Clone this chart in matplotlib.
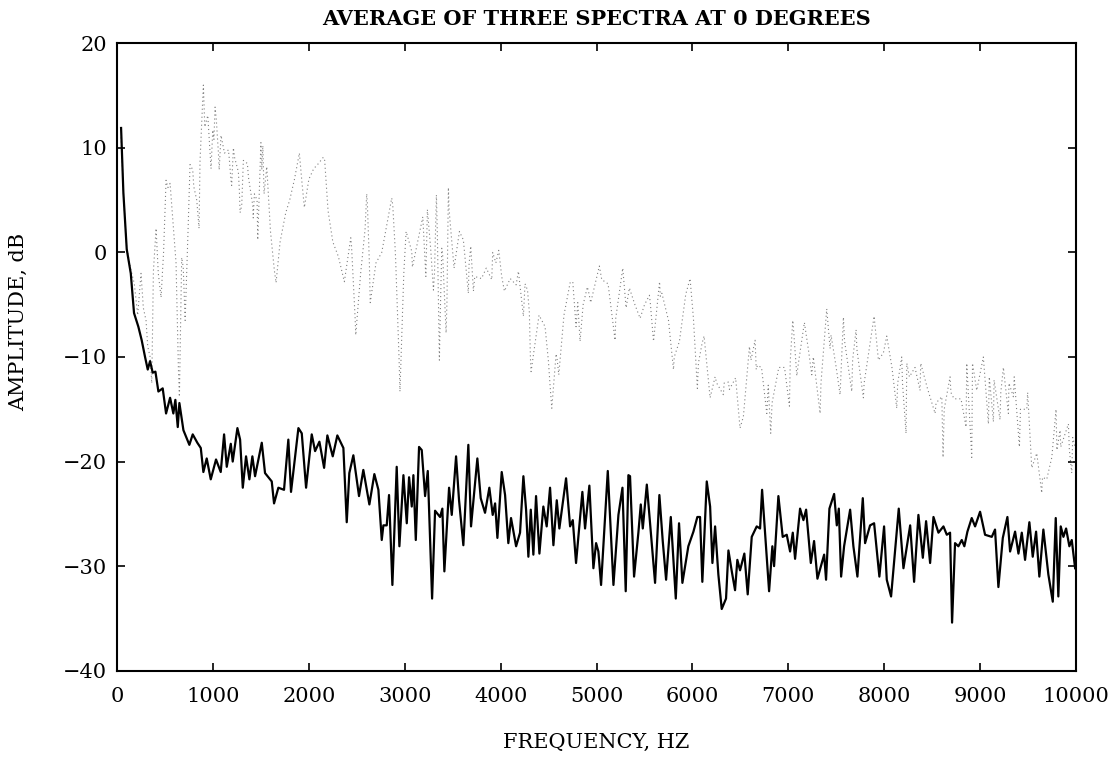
#!/usr/bin/env python3
"""Average of three spectra at 0 degrees: solid vs dotted amplitude spectra."""
import matplotlib
matplotlib.use("Agg")
import matplotlib.pyplot as plt

# ---- solid spectrum (Hz, dB) ----
solid_freq = [42, 66, 101, 143, 177, 222, 257, 292, 320, 344, 372, 400, 431, 476, 511,
              553, 587, 608, 633, 650, 692, 754, 789, 837, 873, 900, 935, 977, 1032,
              1081, 1116, 1144, 1186, 1206, 1255, 1283, 1311, 1345, 1380, 1411, 1439,
              1509, 1543, 1613, 1637, 1682, 1741, 1786, 1814, 1891, 1926, 1971, 2030,
              2065, 2110, 2159, 2193, 2249, 2297, 2360, 2395, 2422, 2464, 2523, 2568,
              2631, 2683, 2725, 2760, 2777, 2812, 2836, 2871, 2916, 2944, 2986, 3021,
              3045, 3073, 3090, 3115, 3149, 3177, 3212, 3240, 3285, 3316, 3368, 3392,
              3413, 3462, 3490, 3535, 3566, 3611, 3663, 3691, 3757, 3792, 3837, 3882,
              3917, 3942, 3966, 4011, 4046, 4080, 4108, 4161, 4202, 4237, 4265, 4289,
              4314, 4341, 4369, 4404, 4445, 4480, 4515, 4550, 4585, 4612, 4682, 4724,
              4752, 4786, 4852, 4880, 4925, 4967, 4995, 5019, 5047, 5117, 5176, 5228,
              5270, 5304, 5332, 5349, 5391, 5436, 5461, 5482, 5524, 5565, 5610, 5655,
              5690, 5725, 5774, 5795, 5826, 5860, 5895, 5957, 6010, 6051, 6079, 6103,
              6149, 6184, 6208, 6236, 6270, 6305, 6350, 6375, 6410, 6444, 6468, 6496,
              6541, 6576, 6618, 6670, 6705, 6726, 6767, 6799, 6833, 6851, 6896, 6941,
              6983, 7018, 7046, 7070, 7122, 7157, 7185, 7234, 7268, 7303, 7373, 7393,
              7428, 7477, 7505, 7526, 7550, 7581, 7644, 7678, 7720, 7776, 7800, 7852,
              7894, 7949, 7998, 8026, 8071, 8113, 8151, 8200, 8270, 8311, 8356, 8402,
              8436, 8478, 8513, 8565, 8617, 8652, 8686, 8707, 8738, 8773, 8808, 8835,
              8867, 8912, 8947, 8999, 9051, 9121, 9155, 9190, 9236, 9284, 9312, 9364,
              9399, 9434, 9468, 9513, 9548, 9583, 9617, 9659, 9711, 9757, 9788, 9815,
              9840, 9868, 9896, 9930, 9955, 9990]
solid_db = [11.9, 5.7, 0.3, -2.0, -5.8, -7.1, -8.4, -10.0, -11.2, -10.4, -11.5, -11.4,
            -13.3, -13.0, -15.4, -13.9, -15.4, -14.1, -16.7, -14.4, -17.0, -18.4, -17.4,
            -18.2, -18.7, -21.0, -19.7, -21.7, -19.8, -21.0, -17.4, -20.5, -18.3, -20.0,
            -16.8, -17.9, -22.5, -19.5, -21.7, -19.5, -21.4, -18.2, -21.1, -21.9, -24.0,
            -22.5, -22.7, -17.9, -22.9, -16.8, -17.3, -22.5, -17.4, -19.0, -18.1, -20.6,
            -17.5, -19.5, -17.5, -18.7, -25.8, -21.1, -19.4, -23.3, -20.8, -24.1, -21.2,
            -22.7, -27.5, -26.1, -26.1, -23.2, -31.8, -20.5, -28.1, -21.3, -25.9, -21.5,
            -24.3, -21.3, -27.5, -18.6, -18.9, -23.3, -20.9, -33.1, -24.7, -25.3, -24.5,
            -30.5, -22.5, -25.1, -19.5, -23.7, -28.0, -18.4, -26.2, -19.7, -23.5, -24.9,
            -22.5, -25.1, -24.0, -27.3, -21.0, -23.2, -27.8, -25.4, -28.1, -26.8, -21.4,
            -24.6, -29.1, -24.6, -28.9, -23.3, -28.8, -24.3, -26.2, -22.5, -28.0, -23.7,
            -26.4, -21.6, -26.2, -25.6, -29.7, -22.9, -26.4, -22.3, -30.2, -27.8, -28.6,
            -31.8, -20.9, -31.8, -25.1, -22.5, -32.4, -21.3, -21.4, -31.0, -26.8, -24.1,
            -26.4, -22.2, -26.7, -31.6, -23.2, -27.6, -31.3, -25.3, -28.5, -33.1, -25.9,
            -31.6, -28.1, -26.7, -25.3, -25.3, -31.5, -21.9, -24.3, -29.7, -26.2, -30.8,
            -34.1, -33.1, -28.5, -30.5, -32.3, -29.4, -30.4, -28.8, -32.7, -27.2, -26.2,
            -26.4, -22.7, -28.1, -32.4, -28.1, -30.0, -23.3, -27.2, -27.0, -28.6, -26.8,
            -29.3, -24.5, -25.6, -24.6, -29.7, -27.6, -31.2, -28.9, -31.3, -24.5, -23.1,
            -26.1, -24.5, -31.0, -28.1, -24.6, -28.1, -31.0, -23.5, -27.8, -26.1, -25.9,
            -31.0, -26.2, -31.3, -32.9, -28.5, -24.5, -30.2, -26.1, -31.5, -25.1, -29.2,
            -25.7, -29.7, -25.3, -26.8, -26.2, -27.0, -26.8, -35.4, -27.8, -28.1, -27.5,
            -28.1, -26.7, -25.4, -26.2, -24.8, -27.0, -27.2, -26.5, -32.0, -27.3, -25.3,
            -28.6, -26.7, -28.8, -26.8, -29.4, -25.8, -29.1, -26.7, -31.0, -26.5, -30.8,
            -33.4, -25.4, -32.9, -26.2, -27.2, -26.4, -28.1, -27.5, -30.2]

# ---- dotted spectrum (Hz, dB) ----
dotted_freq = [42, 70, 100, 140, 180, 215, 250, 274, 302, 320, 345, 362, 379, 407, 430,
               459, 485, 511, 530, 553, 590, 615, 640, 650, 674, 690, 699, 710, 740, 761,
               789, 800, 831, 855, 865, 900, 915, 946, 980, 998, 1010, 1022, 1035, 1057,
               1065, 1084, 1120, 1161, 1170, 1186, 1195, 1213, 1225, 1265, 1275, 1283,
               1300, 1317, 1359, 1370, 1415, 1420, 1432, 1460, 1467, 1500, 1509, 1520,
               1533, 1561, 1600, 1640, 1658, 1700, 1759, 1800, 1850, 1901, 1926, 1953,
               2000, 2050, 2100, 2151, 2165, 2200, 2250, 2308, 2370, 2437, 2445, 2482,
               2489, 2540, 2586, 2603, 2610, 2631, 2640, 2700, 2760, 2864, 2875, 2899,
               2905, 2940, 2950, 2990, 3014, 3030, 3073, 3080, 3188, 3212, 3220, 3236,
               3270, 3299, 3310, 3330, 3340, 3361, 3370, 3386, 3395, 3431, 3440, 3455,
               3462, 3514, 3570, 3611, 3663, 3670, 3688, 3716, 3730, 3800, 3850, 3907,
               3917, 3950, 3980, 4011, 4039, 4100, 4161, 4185, 4237, 4254, 4280, 4299,
               4310, 4317, 4400, 4463, 4498, 4515, 4533, 4578, 4590, 4606, 4660, 4724,
               4752, 4786, 4804, 4828, 4860, 4904, 4920, 4939, 5029, 5054, 5120, 5193,
               5200, 5273, 5308, 5342, 5400, 5454, 5500, 5551, 5560, 5594, 5657, 5665,
               5681, 5750, 5802, 5810, 5864, 5930, 5975, 6010, 6051, 6062, 6100, 6121,
               6184, 6236, 6253, 6322, 6330, 6375, 6385, 6450, 6496, 6531, 6594, 6610,
               6653, 6665, 6677, 6720, 6775, 6790, 6816, 6830, 6900, 6960, 7011, 7020,
               7046, 7055, 7088, 7100, 7167, 7209, 7244, 7260, 7331, 7340, 7400, 7435,
               7445, 7497, 7539, 7574, 7585, 7661, 7670, 7706, 7715, 7782, 7790, 7894,
               7939, 7991, 8026, 8080, 8130, 8140, 8182, 8190, 8227, 8235, 8262, 8320,
               8373, 8380, 8450, 8530, 8540, 8600, 8613, 8625, 8686, 8695, 8728, 8800,
               8853, 8860, 8912, 8920, 8964, 9033, 9086, 9095, 9138, 9145, 9207, 9215,
               9242, 9294, 9300, 9346, 9355, 9409, 9420, 9486, 9495, 9538, 9590, 9642,
               9650, 9694, 9747, 9791, 9800, 9833, 9840, 9920, 9930, 9955, 9965, 10000]
dotted_db = [11.0, 5.0, 0.5, -1.5, -3.0, -6.0, -2.0, -5.3, -6.5, -9.0, -10.0, -12.5, -1.8,
             2.3, -2.0, -4.3, 0.0, 6.9, 6.2, 6.6, 2.0, -1.0, -11.2, -13.8, -0.5, -1.4,
             -3.6, -6.5, 2.0, 8.4, 7.9, 6.3, 5.0, 2.3, 8.7, 16.0, 12.0, 13.1, 8.0, 11.7,
             10.8, 13.9, 12.7, 9.5, 7.9, 11.2, 9.5, 9.8, 9.0, 7.1, 6.4, 10.0, 9.1, 7.7,
             6.0, 3.8, 4.5, 8.8, 8.5, 7.2, 4.5, 3.3, 5.6, 5.0, 1.2, 10.5, 7.9, 10.2, 5.6,
             8.2, 2.0, -1.7, -2.9, 1.0, 3.8, 5.0, 7.0, 9.5, 6.9, 4.3, 7.0, 8.0, 8.5, 9.1,
             8.8, 4.0, 1.0, -0.4, -2.8, 1.4, 0.6, -6.2, -7.9, -2.0, 2.2, 5.6, 4.7, -1.0,
             -4.8, -1.0, 0.0, 5.2, 4.5, 0.5, -0.7, -10.0, -13.3, -2.0, 2.0, 1.5, 0.1,
             -1.4, 3.4, -1.0, -2.3, 4.1, 0.4, -3.6, -2.0, 5.5, 1.7, -10.3, -6.0, 0.4,
             -0.2, -7.7, -4.7, 6.2, 4.1, -1.5, 2.0, 1.2, -3.9, -1.2, 0.6, -3.7, -2.3,
             -2.5, -1.5, -2.6, 0.0, -1.0, 0.2, -2.3, -3.7, -2.5, -3.1, -1.8, -6.1, -3.0,
             -3.6, -5.7, -10.0, -11.4, -6.0, -7.1, -10.4, -12.7, -14.9, -9.7, -10.3,
             -11.7, -6.0, -2.9, -2.8, -7.1, -4.8, -8.5, -5.0, -3.3, -3.9, -4.8, -1.3,
             -2.6, -3.0, -8.4, -6.3, -1.5, -5.3, -3.4, -5.0, -6.3, -5.0, -4.1, -4.8,
             -8.5, -2.8, -4.2, -3.9, -6.5, -11.2, -10.0, -8.5, -4.0, -2.5, -6.3, -13.0,
             -10.6, -8.7, -8.0, -13.9, -11.9, -12.5, -13.6, -12.5, -12.4, -13.1, -12.0,
             -16.8, -15.7, -9.0, -10.3, -8.4, -11.2, -10.8, -11.0, -15.4, -12.7, -17.3,
             -14.4, -11.0, -11.0, -14.7, -10.3, -6.5, -7.5, -11.8, -10.9, -6.7, -9.3,
             -11.7, -10.0, -15.4, -12.5, -5.4, -9.2, -7.9, -10.9, -13.6, -6.2, -8.4,
             -13.3, -10.3, -7.4, -9.3, -13.9, -12.5, -6.1, -10.3, -9.6, -8.0, -11.0,
             -14.9, -12.5, -10.0, -12.5, -17.3, -10.6, -11.9, -11.0, -13.2, -10.6, -13.0,
             -15.4, -14.4, -13.8, -19.6, -15.0, -11.9, -13.4, -14.0, -14.0, -16.7, -10.6,
             -19.6, -10.6, -13.2, -10.0, -16.4, -11.9, -16.2, -12.2, -16.0, -13.4, -11.0,
             -15.4, -12.5, -13.8, -11.9, -18.6, -15.0, -15.0, -13.4, -20.6, -19.2, -23.0,
             -21.5, -21.7, -19.6, -15.0, -18.9, -17.0, -18.6, -16.4, -18.9, -21.1, -17.7,
             -19.0]

x_ticks = [0, 1000, 2000, 3000, 4000, 5000, 6000, 7000, 8000, 9000, 10000]
y_ticks = [-40, -30, -20, -10, 0, 10, 20]

plt.rcParams["font.family"] = ["DejaVu Serif"]

fig = plt.figure(figsize=(11.18, 7.62), dpi=100)
ax = fig.add_axes([0.1047, 0.1198, 0.8578, 0.8234])

ax.plot(dotted_freq, dotted_db, color="0.5", lw=0.8, ls=(0, (1, 2.6)))
ax.plot(solid_freq, solid_db, color="black", lw=1.6)

ax.set_xlim(0, 10000)
ax.set_ylim(-40, 20)
ax.set_xticks(x_ticks)
ax.set_yticks(y_ticks)
ax.set_yticklabels([str(v).replace("-", "\u2212") for v in y_ticks])
ax.tick_params(direction="in", length=6, width=1.2, top=True, right=True,
               labelsize=15)
ax.tick_params(axis="x", pad=12)
ax.tick_params(axis="y", pad=7)
for s in ax.spines.values():
    s.set_linewidth(1.5)

ax.set_title("AVERAGE OF THREE SPECTRA AT 0 DEGREES", fontsize=15,
             fontweight="bold", pad=13)
ax.set_xlabel("FREQUENCY, HZ", fontsize=15)
ax.set_ylabel("AMPLITUDE, dB", fontsize=15)
ax.xaxis.set_label_coords(0.5, -0.099)
ax.yaxis.set_label_coords(-0.093, 0.556)

fig.savefig("out.png", dpi=100)
